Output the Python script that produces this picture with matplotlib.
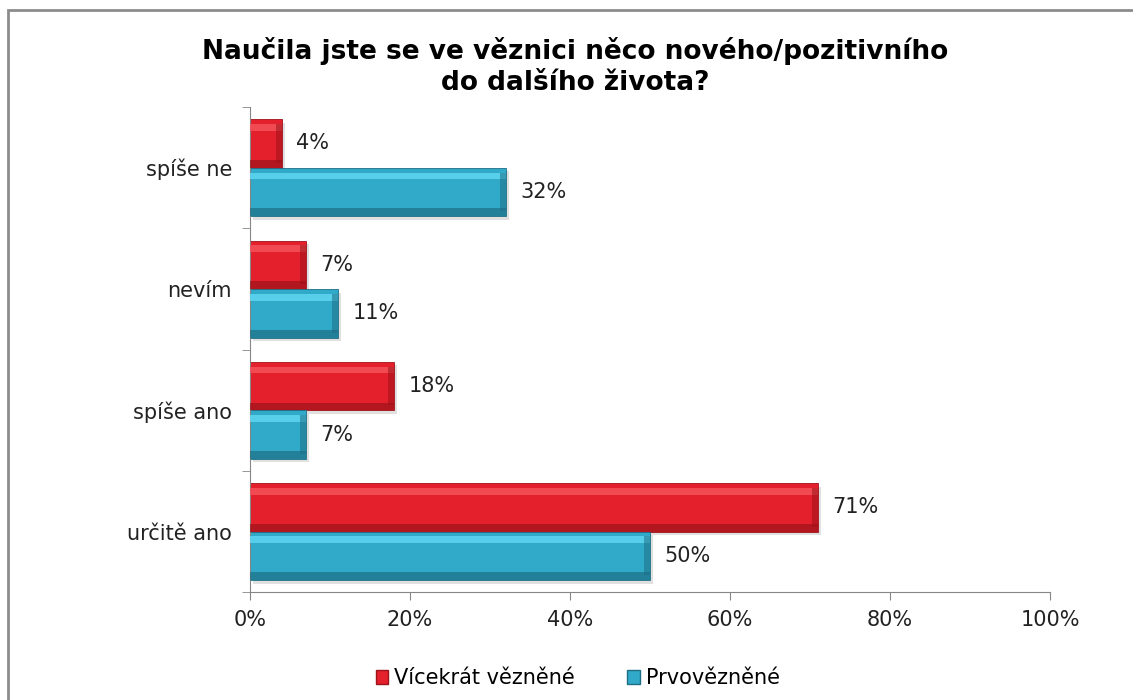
import matplotlib.pyplot as plt
import matplotlib.patches as mpatches
import numpy as np

# data
categories = ['určitě ano', 'spíše ano', 'nevím', 'spíše ne']
repeat = [71, 18, 7, 4]      # Vícekrát vězněné
first = [50, 7, 11, 32]      # Prvovězněné
series_names = ['Vícekrát vězněné', 'Prvovězněné']
x_ticks = [0, 20, 40, 60, 80, 100]
title = 'Naučila jste se ve věznici něco nového/pozitivního\ndo dalšího života?'

red = '#E3202B'
red_light = '#F4525B'
red_dark = '#9E1219'
blue = '#31A9C8'
blue_light = '#5ED6F2'
blue_dark = '#1E6F85'

plt.rcParams['font.family'] = ['DejaVu Sans']

fig = plt.figure(figsize=(11.33, 7), dpi=100)
ax = fig.add_axes([0.2207, 0.154, 0.706, 0.693])

# outer chart frame (runs off the right and bottom edge)
fig.patches.append(mpatches.Rectangle((8 / 1133, -0.05), 1.2, 1 - 10 / 700 + 0.05,
                                      transform=fig.transFigure, fill=False,
                                      edgecolor='#8C8C8C', linewidth=2))

y = np.arange(len(categories))
h = 0.4


def bevel_bar(pos, vals, base, light, dark):
    # shadow
    ax.barh(pos - 0.03, vals, height=h, left=0.35, color='#000000', alpha=0.12, zorder=1)
    ax.barh(pos, vals, height=h, color=base, edgecolor=dark, linewidth=0.6, zorder=2)
    # top highlight and bottom shade
    ax.barh(pos + h * 0.33, vals, height=h * 0.14, color=light, alpha=0.85, linewidth=0, zorder=3)
    ax.barh(pos - h * 0.42, vals, height=h * 0.16, color=dark, alpha=0.7, linewidth=0, zorder=3)
    # darker end cap
    ax.barh(pos, [0.7] * len(vals), height=h * 0.8, left=np.array(vals) - 0.7,
            color=dark, alpha=0.55, linewidth=0, zorder=3)


bevel_bar(y + h / 2, repeat, red, red_light, red_dark)
bevel_bar(y - h / 2, first, blue, blue_light, blue_dark)

for i in range(len(categories)):
    ax.text(repeat[i] + 1.8, y[i] + h / 2, f'{repeat[i]}%', va='center', ha='left',
            fontsize=15, color='#222222')
    ax.text(first[i] + 1.8, y[i] - h / 2, f'{first[i]}%', va='center', ha='left',
            fontsize=15, color='#222222')

ax.set_xlim(0, 100)
ax.set_ylim(-0.5, len(categories) - 0.5)
ax.set_xticks(x_ticks)
ax.set_xticklabels([f'{t}%' for t in x_ticks], fontsize=15, color='#222222')
ax.set_yticks(y)
ax.set_yticklabels(categories, fontsize=15, color='#222222')
ax.set_yticks(np.arange(len(categories) + 1) - 0.5, minor=True)
ax.tick_params(axis='y', which='major', length=0, pad=13)
ax.tick_params(axis='y', which='minor', length=6, color='#868686', direction='out')
ax.tick_params(axis='x', length=6, color='#868686', direction='out', pad=7)
for s in ['top', 'right']:
    ax.spines[s].set_visible(False)
for s in ['left', 'bottom']:
    ax.spines[s].set_color('#868686')

fig.text(0.508, 0.905, title, ha='center', va='center', fontsize=19,
         fontweight='bold', linespacing=1.25)

handles = [mpatches.Patch(facecolor=red, edgecolor=red_dark),
           mpatches.Patch(facecolor=blue, edgecolor=blue_dark)]
fig.legend(handles, series_names, loc='center', bbox_to_anchor=(0.51, 0.031), ncol=2,
           frameon=False, fontsize=15, handlelength=0.6, handleheight=0.6,
           handletextpad=0.3, columnspacing=2.5)

fig.savefig('out.png', dpi=100, facecolor='white')
